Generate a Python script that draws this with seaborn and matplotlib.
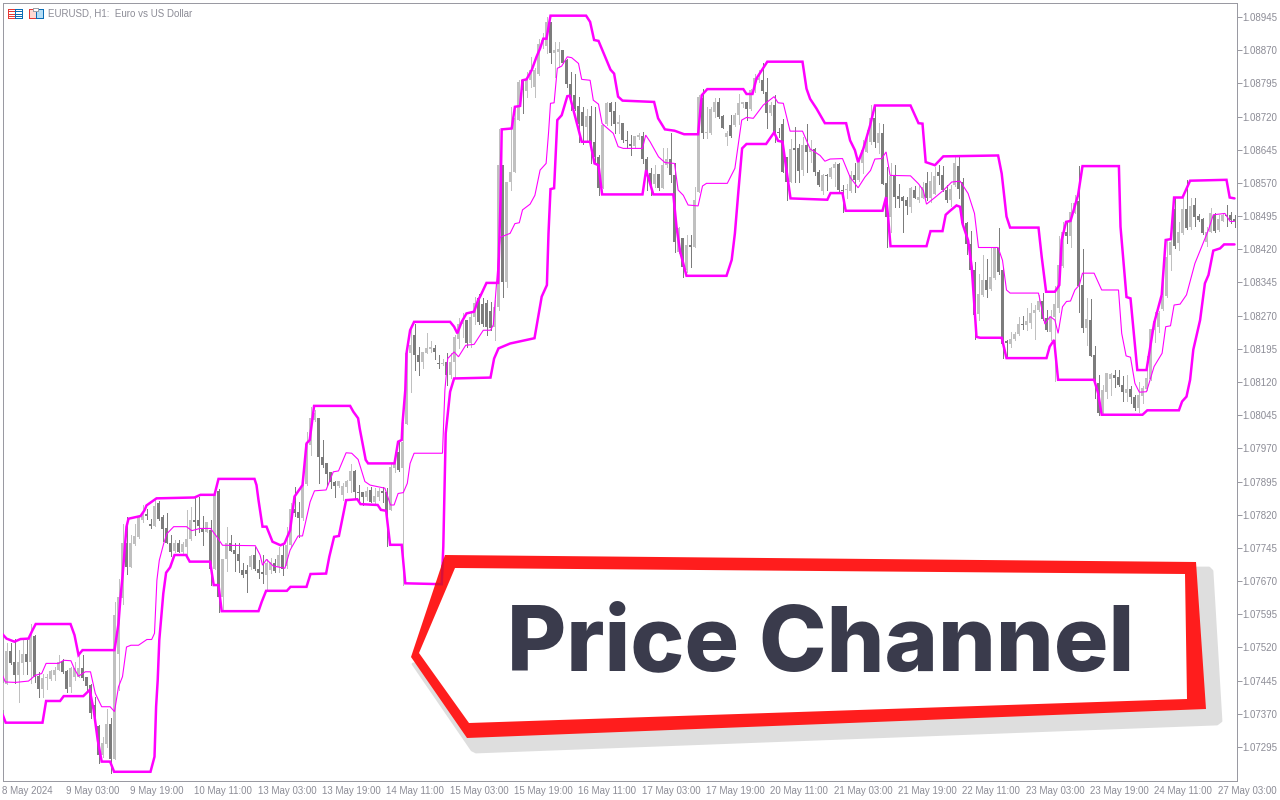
import matplotlib
matplotlib.use("Agg")
import matplotlib.pyplot as plt
from matplotlib.patches import Polygon, Rectangle
import numpy as np
import pandas as pd
import seaborn as sns

# Prices are kept as points above this base (1 point = 0.00001)
BASE_PRICE = 1.07
POINT = 0.00001

opens = [
    378, 437, 512, 488, 457, 485, 505, 488, 546, 455,
    427, 450, 448, 457, 470, 490, 467, 430, 454, 454,
    473, 454, 435, 390, 342, 277, 302, 347, 269, 506,
    631, 755, 701, 753, 770, 809, 821, 799, 795, 847,
    815, 789, 757, 738, 757, 736, 747, 765, 809, 808,
    787, 781, 785, 697, 873, 634, 719, 757, 740, 732,
    696, 695, 701, 729, 698, 691, 683, 695, 712, 701,
    729, 703, 752, 832, 827, 812, 889, 977, 1034, 1038,
    951, 936, 916, 895, 885, 864, 882, 896, 919, 872,
    872, 861, 876, 848, 861, 874, 872, 831, 925, 962,
    925, 1026, 1185, 1226, 1181, 1166, 1186, 1194, 1196, 1162,
    1160, 1166, 1136, 1166, 1218, 1251, 1260, 1209, 1267, 1309,
    1297, 1299, 1281, 1245, 1289, 1610, 1347, 1573, 1595, 1713,
    1802, 1778, 1802, 1786, 1816, 1885, 1879, 1934, 1863, 1866,
    1870, 1847, 1793, 1768, 1744, 1731, 1697, 1721, 1663, 1629,
    1558, 1703, 1750, 1732, 1703, 1706, 1668, 1658, 1653, 1674,
    1676, 1625, 1593, 1567, 1591, 1558, 1610, 1625, 1588, 1413,
    1445, 1373, 1430, 1426, 1550, 1761, 1682, 1682, 1731, 1753,
    1721, 1673, 1701, 1701, 1723, 1748, 1753, 1738, 1780, 1802,
    1802, 1776, 1727, 1746, 1686, 1704, 1629, 1572, 1650, 1650,
    1600, 1655, 1640, 1647, 1595, 1552, 1587, 1583, 1604, 1612,
    1555, 1553, 1551, 1587, 1576, 1614, 1640, 1662, 1717, 1660,
    1683, 1570, 1493, 1589, 1540, 1538, 1531, 1516, 1555, 1531,
    1536, 1570, 1537, 1546, 1595, 1589, 1555, 1531, 1565, 1608,
    1572, 1480, 1433, 1373, 1273, 1316, 1351, 1331, 1354, 1422,
    1373, 1213, 1206, 1217, 1229, 1251, 1249, 1254, 1277, 1283,
    1303, 1264, 1234, 1268, 1287, 1382, 1460, 1449, 1503, 1528,
    1339, 1242, 1260, 1181, 1117, 1050, 1098, 1126, 1136, 1131,
    1114, 1096, 1105, 1087, 1062, 1089, 1104, 1126, 1238, 1245,
    1284, 1315, 1407, 1510, 1435, 1456, 1510, 1470, 1520, 1495,
    1488, 1437, 1460, 1498, 1464, 1485, 1498, 1498, 1488,
]
closes = [
    439, 512, 485, 457, 488, 505, 488, 544, 454, 427,
    450, 454, 467, 469, 488, 465, 427, 473, 473, 473,
    450, 433, 372, 375, 277, 303, 347, 269, 593, 634,
    755, 701, 755, 771, 815, 819, 817, 795, 839, 811,
    787, 757, 736, 757, 736, 753, 766, 809, 804, 795,
    780, 804, 698, 864, 634, 721, 757, 738, 731, 715,
    683, 686, 726, 697, 689, 686, 711, 714, 692, 729,
    698, 752, 834, 823, 812, 883, 980, 1038, 1049, 951,
    932, 913, 895, 885, 896, 885, 897, 919, 872, 870,
    861, 874, 849, 862, 874, 870, 831, 928, 934, 921,
    985, 1185, 1203, 1181, 1166, 1188, 1196, 1198, 1188, 1160,
    1163, 1136, 1166, 1222, 1252, 1260, 1209, 1267, 1299, 1256,
    1252, 1245, 1243, 1290, 1610, 1347, 1573, 1595, 1716, 1799,
    1780, 1804, 1825, 1825, 1885, 1894, 1934, 1863, 1870, 1872,
    1841, 1793, 1768, 1738, 1704, 1698, 1721, 1663, 1629, 1558,
    1701, 1751, 1731, 1703, 1708, 1667, 1665, 1653, 1676, 1678,
    1625, 1595, 1567, 1590, 1558, 1610, 1625, 1588, 1437, 1467,
    1381, 1430, 1426, 1531, 1765, 1682, 1686, 1736, 1753, 1719,
    1695, 1682, 1676, 1723, 1750, 1753, 1738, 1780, 1806, 1806,
    1777, 1728, 1746, 1686, 1682, 1595, 1572, 1647, 1645, 1598,
    1655, 1640, 1647, 1595, 1565, 1587, 1585, 1604, 1612, 1553,
    1551, 1557, 1587, 1577, 1617, 1644, 1666, 1717, 1662, 1683,
    1567, 1493, 1585, 1538, 1534, 1529, 1517, 1559, 1537, 1538,
    1561, 1535, 1574, 1585, 1585, 1553, 1531, 1557, 1614, 1557,
    1480, 1431, 1373, 1271, 1318, 1351, 1329, 1358, 1422, 1369,
    1207, 1209, 1217, 1229, 1251, 1249, 1257, 1277, 1283, 1303,
    1263, 1238, 1268, 1296, 1385, 1460, 1449, 1505, 1524, 1337,
    1242, 1262, 1179, 1126, 1050, 1101, 1140, 1138, 1130, 1114,
    1098, 1105, 1086, 1062, 1091, 1106, 1129, 1239, 1257, 1275,
    1315, 1402, 1437, 1428, 1458, 1510, 1467, 1518, 1494, 1486,
    1456, 1460, 1501, 1462, 1488, 1498, 1495, 1486, 1485,
]
highs = [
    439, 529, 529, 538, 514, 537, 537, 573, 548, 465,
    461, 461, 469, 476, 503, 493, 469, 476, 488, 503,
    503, 454, 437, 409, 345, 318, 382, 360, 623, 674,
    800, 815, 774, 800, 815, 842, 832, 811, 853, 851,
    819, 823, 774, 762, 764, 759, 830, 838, 860, 859,
    817, 804, 808, 870, 879, 721, 793, 774, 755, 755,
    710, 706, 729, 747, 717, 729, 721, 722, 721, 747,
    751, 793, 846, 883, 849, 913, 1008, 1064, 1056, 1038,
    989, 936, 917, 897, 896, 891, 898, 934, 921, 887,
    872, 883, 883, 880, 880, 883, 880, 936, 962, 985,
    1030, 1188, 1249, 1252, 1200, 1188, 1230, 1213, 1203, 1181,
    1173, 1185, 1185, 1226, 1264, 1275, 1260, 1279, 1312, 1320,
    1309, 1305, 1301, 1305, 1691, 1610, 1573, 1742, 1742, 1802,
    1802, 1821, 1855, 1829, 1896, 1908, 1945, 1934, 1889, 1889,
    1870, 1851, 1821, 1817, 1765, 1742, 1738, 1744, 1742, 1633,
    1704, 1753, 1753, 1753, 1723, 1706, 1688, 1678, 1676, 1682,
    1686, 1628, 1603, 1610, 1591, 1648, 1648, 1682, 1614, 1471,
    1445, 1452, 1452, 1561, 1768, 1783, 1742, 1741, 1763, 1761,
    1723, 1687, 1723, 1727, 1771, 1753, 1753, 1783, 1817, 1825,
    1841, 1806, 1753, 1768, 1693, 1715, 1629, 1670, 1696, 1659,
    1674, 1704, 1666, 1650, 1600, 1591, 1591, 1606, 1617, 1615,
    1565, 1568, 1598, 1614, 1629, 1668, 1690, 1745, 1745, 1705,
    1704, 1606, 1614, 1610, 1567, 1540, 1538, 1561, 1562, 1562,
    1572, 1595, 1595, 1605, 1610, 1608, 1565, 1565, 1629, 1629,
    1580, 1482, 1461, 1391, 1365, 1406, 1397, 1422, 1422, 1467,
    1380, 1215, 1234, 1234, 1268, 1269, 1287, 1298, 1294, 1317,
    1322, 1283, 1283, 1337, 1449, 1482, 1482, 1524, 1543, 1608,
    1420, 1309, 1307, 1202, 1136, 1114, 1141, 1141, 1146, 1147,
    1134, 1136, 1111, 1091, 1121, 1111, 1178, 1239, 1279, 1281,
    1370, 1441, 1443, 1535, 1482, 1535, 1577, 1535, 1535, 1500,
    1490, 1470, 1513, 1501, 1498, 1503, 1520, 1505, 1498,
]
lows = [
    371, 437, 482, 439, 397, 461, 460, 439, 442, 409,
    409, 427, 446, 446, 469, 463, 420, 420, 446, 454,
    446, 424, 360, 341, 258, 273, 296, 237, 269, 424,
    619, 687, 701, 751, 768, 804, 811, 790, 795, 809,
    761, 755, 726, 736, 735, 729, 729, 762, 774, 781,
    751, 781, 661, 697, 601, 608, 693, 738, 693, 691,
    680, 646, 698, 695, 676, 665, 653, 688, 691, 691,
    683, 699, 748, 816, 770, 808, 887, 955, 1032, 891,
    928, 887, 880, 861, 883, 853, 872, 872, 857, 846,
    842, 853, 848, 842, 853, 849, 750, 831, 917, 919,
    661, 1024, 1098, 1147, 1136, 1151, 1185, 1188, 1173, 1151,
    1158, 1113, 1128, 1128, 1196, 1222, 1200, 1200, 1252, 1250,
    1246, 1226, 1237, 1216, 1283, 1313, 1335, 1554, 1595, 1712,
    1727, 1765, 1787, 1765, 1814, 1874, 1863, 1840, 1810, 1832,
    1840, 1787, 1734, 1734, 1663, 1659, 1667, 1614, 1614, 1543,
    1558, 1701, 1701, 1682, 1682, 1663, 1648, 1633, 1652, 1670,
    1614, 1554, 1542, 1561, 1554, 1558, 1607, 1573, 1414, 1411,
    1358, 1369, 1381, 1426, 1550, 1671, 1671, 1680, 1719, 1716,
    1693, 1655, 1674, 1698, 1704, 1742, 1712, 1734, 1776, 1799,
    1774, 1693, 1723, 1663, 1674, 1595, 1532, 1572, 1572, 1572,
    1587, 1595, 1617, 1587, 1562, 1546, 1555, 1580, 1562, 1550,
    1504, 1535, 1550, 1550, 1574, 1592, 1640, 1659, 1651, 1638,
    1567, 1425, 1459, 1516, 1516, 1459, 1499, 1504, 1535, 1527,
    1535, 1531, 1527, 1544, 1567, 1551, 1527, 1517, 1562, 1535,
    1478, 1410, 1373, 1218, 1260, 1314, 1312, 1327, 1352, 1365,
    1175, 1174, 1200, 1215, 1226, 1239, 1238, 1242, 1217, 1281,
    1260, 1236, 1215, 1123, 1279, 1381, 1435, 1426, 1501, 1279,
    1234, 1204, 1178, 1083, 1046, 1046, 1083, 1091, 1108, 1111,
    1076, 1076, 1072, 1056, 1053, 1072, 1102, 1125, 1211, 1234,
    1283, 1313, 1373, 1422, 1418, 1455, 1465, 1465, 1473, 1485,
    1455, 1428, 1458, 1458, 1462, 1483, 1473, 1479, 1470,
]

# Price channel lines, as the bars where they change direction
upper_bars = [
    0, 1, 3, 4.5, 6.5, 7.5, 8.3, 17, 18, 19, 20, 28, 29, 29.5, 30, 31, 31.5, 34.5, 35.5, 36,
    38.5, 48, 49.5, 53, 54, 63, 63.5, 64, 65, 66, 67.5, 69.5, 70.5, 71.9, 73, 75, 76, 76.8, 77.9, 86.9,
    87.7, 88.9, 89.3, 90.8, 91.4, 98, 98.9, 99.8, 100, 100.7, 101, 101.9, 102.9, 111.9, 112.9, 113.7, 114.8, 116, 117.9, 118.9,
    119.4, 121, 123.9, 124.5, 124.8, 127.3, 128.1, 129.4, 130, 131, 132.3, 133.5, 134.4, 135.2, 136, 137, 145.9, 146.9, 147.9, 149,
    152, 152.9, 153.9, 155, 162.9, 163.9, 165.6, 168, 170.4, 173.9, 174.8, 176.2, 185.2, 186, 187.5, 188.5, 191.2, 200, 201, 201.9,
    203.5, 205.6, 210.9, 211.9, 213.1, 213.9, 215.2, 216.9, 218.1, 227, 229, 230, 230.8, 233.1, 235.2, 248.9, 249.8, 251, 251.9, 259,
    259.8, 260.9, 263.1, 264.2, 264.8, 265.9, 267, 268.9, 270, 279.1, 279.5, 281, 282, 283.7, 286, 287.9, 289.8, 290.8, 292.1, 292.9,
    295, 296.9, 306, 306.8, 308,
]
upper_points = [
    550, 540, 533, 539, 540, 559, 573, 573, 548, 503, 514, 514, 574, 634, 680, 793, 811, 817, 830, 841,
    857, 859, 865, 865, 901, 901, 887, 853, 793, 793, 759, 751, 755, 785, 861, 887, 981, 989, 1066, 1066,
    1053, 1038, 1015, 944, 936, 936, 985, 989, 1026, 1102, 1185, 1237, 1256, 1256, 1245, 1230, 1256, 1275, 1279, 1305,
    1313, 1344, 1344, 1531, 1691, 1693, 1742, 1744, 1802, 1804, 1825, 1855, 1874, 1896, 1896, 1948, 1948, 1934, 1893, 1891,
    1826, 1817, 1765, 1756, 1753, 1716, 1691, 1688, 1680, 1680, 1768, 1782, 1782, 1771, 1771, 1806, 1844, 1844, 1783, 1760,
    1738, 1705, 1705, 1666, 1644, 1617, 1647, 1700, 1745, 1745, 1705, 1704, 1617, 1610, 1630, 1632, 1591, 1494, 1469, 1469,
    1403, 1324, 1324, 1339, 1441, 1482, 1484, 1543, 1608, 1608, 1471, 1312, 1309, 1147, 1147, 1253, 1317, 1441, 1443, 1537,
    1537, 1575, 1577, 1537, 1535,
]
lower_bars = [
    0, 0.8, 10, 10.9, 14.4, 15.3, 20.2, 21.8, 22.8, 23.8, 24.8, 26.9, 27.9, 37, 38, 38.4, 38.8, 39.2, 40.2, 40.9,
    41.9, 43, 45.9, 46.8, 51.9, 52.8, 54, 54.8, 64, 64.8, 65.9, 71.1, 72, 76, 77, 80.9, 81.7, 82.9, 84.1, 85.9,
    88.7, 89.5, 93.8, 94.6, 95.9, 96.9, 99.8, 100.7, 109.8, 110.2, 110.4, 110.6, 110.8, 111.4, 111.9, 112.9, 122, 122.9, 124, 126.9,
    133, 134.8, 136.1, 136.5, 137, 137.9, 138.7, 139.8, 141.2, 141.8, 144.8, 146.9, 148, 149, 149.9, 160, 160.9, 162.7, 167.7, 168.5,
    169.4, 171, 181, 182.3, 183.1, 184, 184.9, 186, 190.9, 192.9, 193.9, 195, 197, 206.2, 207, 210, 210.8, 220, 220.9, 221.4,
    222, 231, 232, 235, 235.8, 236.9, 238.5, 239.4, 240, 241.4, 242.3, 243.5, 244.4, 249.8, 251, 261, 261.8, 262.9, 263.9, 272.9,
    273.9, 274.8, 285, 286.2, 294.1, 294.9, 296, 296.9, 297.7, 299.4, 300.6, 301.5, 302.7, 304.4, 305.4, 308,
]
lower_points = [
    369, 350, 350, 399, 399, 410, 410, 424, 378, 311, 262, 262, 239, 239, 273, 386, 446, 537, 642, 689,
    701, 729, 729, 714, 714, 661, 661, 602, 602, 623, 648, 648, 657, 657, 686, 687, 725, 770, 772, 853,
    855, 844, 842, 831, 829, 752, 752, 665, 663, 748, 831, 917, 1004, 1056, 1098, 1128, 1130, 1173, 1196, 1207,
    1219, 1313, 1339, 1456, 1556, 1558, 1712, 1723, 1766, 1767, 1663, 1663, 1614, 1610, 1544, 1544, 1599, 1544, 1544, 1471,
    1415, 1360, 1360, 1396, 1456, 1554, 1648, 1658, 1658, 1684, 1665, 1663, 1535, 1532, 1547, 1547, 1507, 1507, 1538, 1493,
    1427, 1427, 1461, 1461, 1498, 1507, 1519, 1516, 1478, 1440, 1380, 1222, 1220, 1220, 1174, 1174, 1200, 1215, 1125, 1125,
    1095, 1046, 1046, 1056, 1056, 1076, 1087, 1125, 1193, 1260, 1343, 1362, 1417, 1422, 1431, 1431,
]
middle_bars = [
    0, 0.7, 3.2, 6.5, 8.2, 9.8, 10.9, 14, 15.3, 17.1, 17.9, 19, 20.7, 22, 23.2, 24.8, 26.9, 28, 29, 30,
    31, 32.1, 34, 36.1, 37.3, 38, 38.6, 39.2, 40.3, 41.1, 42.8, 46, 47.3, 49.4, 52, 53.6, 55, 63.2, 64.4, 65,
    66, 67.7, 70.6, 71.9, 73.9, 75, 76.9, 78, 80.9, 82.7, 84, 85.9, 87.3, 88.9, 90.6, 91.9, 95.6, 97, 97.9, 98.9,
    100.2, 101.2, 101.9, 102.9, 110, 110.6, 111.3, 112.9, 114, 115.8, 117.9, 120.2, 122, 122.7, 124.4, 126.9, 128.1, 129.2, 130, 131.9,
    133.1, 134.4, 135.9, 136.5, 137, 137.9, 138.7, 139.8, 141.2, 142.3, 144, 144.8, 146.9, 147.7, 149, 149.9, 152.7, 153.9, 155.2, 160,
    160.8, 161.9, 164, 165.6, 168, 168.9, 170.2, 171.4, 173.9, 175, 176, 181.2, 183.1, 184.8, 186, 187.7, 190.2, 192.9, 193.9, 195.2,
    196.9, 200, 201.9, 204.4, 205.6, 206.9, 210, 211.9, 213.9, 215.6, 217, 218.1, 219.8, 220.9, 221.9, 227, 229, 230.2, 231, 233.1,
    235.2, 237.3, 239.4, 241.4, 243, 244, 248.9, 250, 251, 251.9, 259, 260.6, 261.9, 263.1, 263.9, 265, 266, 267, 268.1, 269.2,
    270, 272.9, 274.8, 279, 279.8, 280.9, 282, 283.1, 284.2, 286, 287.9, 289.9, 290.8, 292, 292.9, 294.4, 296, 298.1, 299.8, 301.5,
    302.7, 305.6, 306.9, 308,
]
middle_points = [
    457, 442, 441, 444, 457, 461, 484, 484, 491, 490, 473, 455, 465, 465, 416, 386, 386, 375, 431, 454,
    521, 525, 525, 538, 538, 552, 672, 717, 755, 777, 793, 793, 784, 789, 789, 770, 751, 750, 729, 706,
    719, 704, 699, 740, 772, 772, 849, 874, 876, 917, 919, 960, 959, 945, 895, 887, 880, 842, 842, 868,
    870, 891, 936, 959, 959, 1102, 1173, 1188, 1177, 1203, 1205, 1237, 1237, 1249, 1447, 1456, 1478, 1480, 1509, 1522,
    1542, 1599, 1614, 1682, 1750, 1751, 1829, 1834, 1855, 1853, 1840, 1804, 1802, 1757, 1748, 1704, 1682, 1652, 1648, 1648,
    1678, 1663, 1629, 1616, 1614, 1554, 1542, 1520, 1518, 1563, 1569, 1569, 1603, 1712, 1718, 1716, 1746, 1765, 1751, 1750,
    1687, 1687, 1647, 1632, 1619, 1624, 1625, 1583, 1559, 1583, 1598, 1624, 1625, 1640, 1587, 1586, 1568, 1553, 1522, 1537,
    1553, 1572, 1574, 1546, 1501, 1424, 1424, 1395, 1328, 1321, 1321, 1251, 1268, 1260, 1230, 1290, 1302, 1303, 1328, 1339,
    1366, 1366, 1328, 1328, 1230, 1179, 1176, 1117, 1097, 1098, 1155, 1185, 1245, 1247, 1294, 1296, 1317, 1388, 1426, 1464,
    1498, 1501, 1483, 1483,
]

price_tick_labels = [
    "1.08945", "1.08870", "1.08795", "1.08720", "1.08645", "1.08570", "1.08495", "1.08420",
    "1.08345", "1.08270", "1.08195", "1.08120", "1.08045", "1.07970", "1.07895", "1.07820",
    "1.07745", "1.07670", "1.07595", "1.07520", "1.07445", "1.07370", "1.07295",
]
time_tick_bars = [0, 16, 32, 48, 64, 80, 96, 112, 128, 144, 160, 176, 192, 208, 224, 240, 256, 272, 288, 304]
time_tick_labels = [
    "8 May 2024", "9 May 03:00", "9 May 19:00", "10 May 11:00", "13 May 03:00", "13 May 19:00",
    "14 May 11:00", "15 May 03:00", "15 May 19:00", "16 May 11:00", "17 May 03:00", "17 May 19:00",
    "20 May 11:00", "21 May 03:00", "21 May 19:00", "22 May 11:00", "23 May 03:00", "23 May 19:00",
    "24 May 11:00", "27 May 03:00",
]

MAGENTA = "#FF00FF"
UP_COLOR = "#C0C0C0"
DOWN_COLOR = "#7C7C7C"
FRAME_COLOR = "#9A9AA2"
LABEL_COLOR = "#8C8C96"
RED = "#FF1D1D"
SHADOW = "#DEDEDE"
INK = "#3A3B4C"
PX = 0.72  # one pixel in points at dpi 100


def to_price(points):
    return BASE_PRICE + np.asarray(points) * POINT


def draw_candles(ax):
    candles = pd.DataFrame({
        "open": to_price(opens), "high": to_price(highs),
        "low": to_price(lows), "close": to_price(closes),
    })
    candles["bar"] = candles.index
    candles["bottom"] = candles[["open", "close"]].min(axis=1)
    candles["top"] = candles[["open", "close"]].max(axis=1)
    colors = np.where(candles["close"] >= candles["open"], UP_COLOR, DOWN_COLOR)
    ax.vlines(candles["bar"], candles["low"], candles["high"], colors=colors,
              linewidth=PX, antialiased=False, zorder=2)
    ax.bar(candles["bar"], candles["top"] - candles["bottom"], bottom=candles["bottom"],
           width=0.75, color=colors, linewidth=0, antialiased=False, zorder=3)


def draw_channel(ax):
    for bars, points, width in [(upper_bars, upper_points, 2.5 * PX),
                                (lower_bars, lower_points, 2.5 * PX),
                                (middle_bars, middle_points, 1.1 * PX)]:
        line_plot = sns.lineplot(x=bars, y=to_price(points), color=MAGENTA, estimator=None,
                                 sort=False, ax=ax, zorder=4)
        line_plot.lines[-1].set_linewidth(width)


def style_axes(ax):
    ax.set_xlim(0, 308.5)
    step = 0.0165 / 730
    ax.set_ylim(1.07295 - 33.5 * step, 1.08945 + 14.5 * step)
    ax.yaxis.tick_right()
    ax.set_yticks([float(label) for label in price_tick_labels])
    ax.set_yticklabels(price_tick_labels, fontsize=7, color=LABEL_COLOR)
    ax.set_xticks(time_tick_bars)
    ax.set_xticklabels(time_tick_labels, fontsize=7, color=LABEL_COLOR, ha="left")
    ax.tick_params(axis="x", length=3.5, width=PX, color=FRAME_COLOR, pad=0.5)
    ax.tick_params(axis="y", length=3.5, width=PX, color=FRAME_COLOR, pad=1)
    ax.set_xlabel("")
    ax.set_ylabel("")
    for spine in ax.spines.values():
        spine.set_visible(True)
        spine.set_color(FRAME_COLOR)
        spine.set_linewidth(PX)


def draw_header(over):
    # the two small chart icons in front of the title
    for x, red_fill, blue_fill in [(7.5, "none", "none"), (28.5, "#FFD9D2", "#B5DDF5")]:
        over.add_patch(Rectangle((x, 8.5), 7, 9.5, fc=red_fill, ec="#E53935", lw=PX, antialiased=False))
        over.add_patch(Rectangle((x + 7, 8.5), 7, 9.5, fc=blue_fill, ec="#0B6DB5", lw=PX, antialiased=False))
    for y in [10.5, 13.5, 15.5]:
        over.plot([8.5, 14], [y, y], color="#E53935", lw=PX, antialiased=False)
        over.plot([15, 21], [y, y], color="#0B6DB5", lw=PX, antialiased=False)
    over.add_patch(Rectangle((33, 7.5), 5, 3.5, fc="white", ec="#A0A0A8", lw=PX, antialiased=False))
    over.text(48.5, 13.5, "EURUSD, H1:  Euro vs US Dollar", fontsize=7, color=LABEL_COLOR,
              ha="left", va="center")


def draw_callout(ax, over):
    shadow = Polygon([(1197, 568), (1209, 568), (1212, 571), (1221, 721), (1217, 724), (476, 752),
                      (472, 750), (413, 664)], closed=True, fc=SHADOW, ec=SHADOW, lw=2, joinstyle="round", zorder=5)
    red = Polygon([(445, 555), (1196, 562), (1206, 709), (467, 738), (411, 657)], closed=True,
                  fc=RED, ec="none", zorder=6)
    white = Polygon([(455, 568), (1185, 574), (1187, 699), (469, 723), (419, 653)], closed=True,
                    fc="white", ec="none", zorder=7)
    for patch in [shadow, red, white]:
        over.add_patch(patch)
    # the channel shows faintly through the red band
    line = over.plot(lower_bars, to_price(lower_points), color="#D8103A", lw=2.5 * PX,
                     transform=ax.transData, zorder=6.5)[0]
    line.set_clip_path(red)
    over.set_xlim(0, 1280)
    over.set_ylim(800, 0)
    over.text(820.5, 670, "Price Channel", fontsize=65.5, fontweight=800, family="Inter", color=INK,
              ha="center", va="baseline", zorder=8)


def main():
    sns.set_theme(style="white")
    plt.rcParams["font.family"] = ["Liberation Sans", "DejaVu Sans"]
    plt.rcParams["lines.solid_joinstyle"] = "miter"
    fig = plt.figure(figsize=(12.8, 8), dpi=100, facecolor="white")
    ax = fig.add_axes([2.5 / 1280, 19.5 / 800, 1234 / 1280, 778 / 800])
    draw_candles(ax)
    draw_channel(ax)
    style_axes(ax)

    over = fig.add_axes([0, 0, 1, 1], facecolor="none", zorder=5)
    over.set_xlim(0, 1280)
    over.set_ylim(800, 0)
    over.axis("off")
    draw_header(over)
    draw_callout(ax, over)
    fig.savefig("out.png", dpi=100, facecolor="white")


main()
